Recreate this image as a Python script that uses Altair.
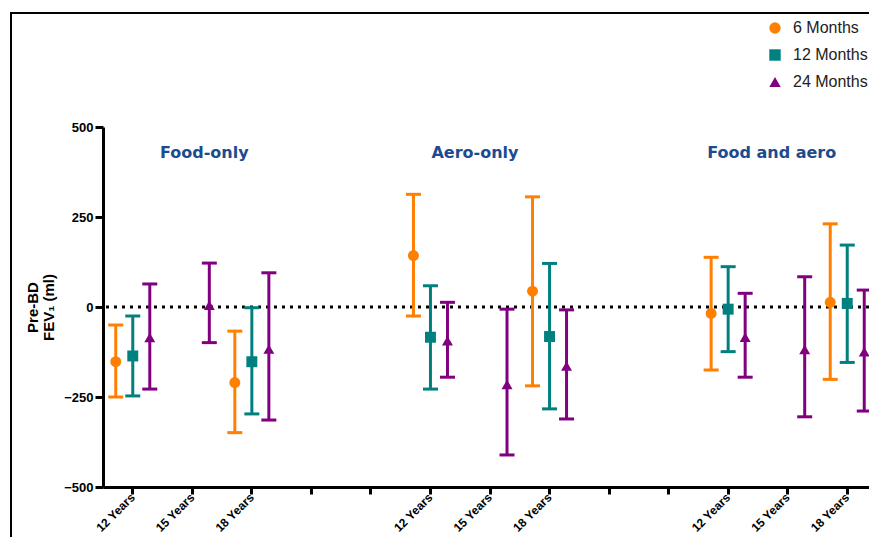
import altair as alt
import pandas as pd

groups = ["Food-only", "Aero-only", "Food and aero"]
ages = ["12 Years", "15 Years", "18 Years"]
series = ["6 Months", "12 Months", "24 Months"]
colors = ["#FF7F00", "#00807F", "#800080"]
shapes = ["circle", "square", "triangle-up"]

# values per (group, age): Food 12/15/18, Aero 12/15/18, Food+aero 12/15/18
mean_6 = [-152, None, -210, 143, None, 44, -18, None, 13]
lo_6 = [-250, None, -349, -25, None, -219, -175, None, -201]
hi_6 = [-50, None, -67, 313, None, 306, 138, None, 231]

mean_12 = [-136, None, -152, -84, None, -82, -6, None, 10]
lo_12 = [-247, None, -297, -228, None, -283, -124, None, -154]
hi_12 = [-25, None, -2, 59, None, 121, 112, None, 172]

mean_24 = [-85, 5, -117, -94, -215, -164, -84, -118, -124]
lo_24 = [-228, -99, -314, -195, -411, -311, -195, -305, -289]
hi_24 = [64, 122, 95, 13, -6, -8, 38, 84, 47]

title_dx = [12, -15, -16]

keys = [f"{g}|{a}" for g in groups for a in ages]
slots = []
for gi, g in enumerate(groups):
    slots += [f"{g}|{a}" for a in ages]
    if gi < len(groups) - 1:
        slots += [f"gap{gi}a", f"gap{gi}b"]

rows = []
for s, ms, los, his in zip(series, [mean_6, mean_12, mean_24], [lo_6, lo_12, lo_24], [hi_6, hi_12, hi_24]):
    for k, m, l, h in zip(keys, ms, los, his):
        if m is None:
            continue
        rows.append({"slot": k, "series": s, "mean": m, "lo": l, "hi": h})
df = pd.DataFrame(rows)

W, H = 774, 360
FONT = "Liberation Sans"

xscale = alt.Scale(domain=slots, paddingInner=0, paddingOuter=0)
offscale = alt.Scale(domain=series, paddingInner=0, paddingOuter=0.25)
yscale = alt.Scale(domain=[-500, 500], nice=False, zero=False)
cscale = alt.Scale(domain=series, range=colors)
sscale = alt.Scale(domain=series, range=shapes)

xaxis = alt.Axis(
    title=None,
    labelExpr="indexof(datum.value, '|') > 0 ? split(datum.value, '|')[1] : ''",
    labelAngle=-45, labelAlign="right", labelBaseline="middle",
    labelFont=FONT, labelFontSize=12, labelFontWeight="bold", labelColor="black",
    labelPadding=1, tickSize=7, tickWidth=3, tickColor="black",
    domainColor="black", domainWidth=3, grid=False,
)
yaxis = alt.Axis(
    values=[-500, -250, 0, 250, 500], grid=False,
    domainColor="black", domainWidth=3, tickColor="black", tickWidth=3, tickSize=8,
    labelFont=FONT, labelFontSize=13, labelFontWeight="bold", labelColor="black", labelPadding=2,
    title=["Pre-BD", "FEV\u2081 (ml)"], titleFont=FONT, titleFontSize=15, titleFontWeight="bold",
    titleColor="black", titlePadding=7, titleLineHeight=16,
)

base = alt.Chart(df).encode(
    x=alt.X("slot:N", scale=xscale, axis=xaxis),
    xOffset=alt.XOffset("series:N", scale=offscale),
)

zero = alt.Chart(pd.DataFrame({"z": [0]})).mark_rule(
    color="black", strokeWidth=3, strokeDash=[3, 5]
).encode(y=alt.Y("z:Q", scale=yscale, axis=yaxis))

bars = base.mark_rule(strokeWidth=3).encode(
    y=alt.Y("lo:Q", scale=yscale, axis=yaxis), y2="hi:Q",
    stroke=alt.Stroke("series:N", scale=cscale, legend=None),
)
cap_lo = base.mark_tick(orient="horizontal", size=15, thickness=3, opacity=1).encode(
    y=alt.Y("lo:Q", scale=yscale),
    fill=alt.Fill("series:N", scale=cscale, legend=None),
)
cap_hi = base.mark_tick(orient="horizontal", size=15, thickness=3, opacity=1).encode(
    y=alt.Y("hi:Q", scale=yscale),
    fill=alt.Fill("series:N", scale=cscale, legend=None),
)

points = base.mark_point(filled=True, size=120, opacity=1).encode(
    y=alt.Y("mean:Q", scale=yscale),
    color=alt.Color("series:N", scale=cscale, legend=None),
    shape=alt.Shape("series:N", scale=sscale, legend=None),
)

titles = []
for g, dx in zip(groups, title_dx):
    tdf = pd.DataFrame({"slot": [f"{g}|15 Years"], "label": [g]})
    titles.append(
        alt.Chart(tdf).mark_text(
            font="DejaVu Sans", fontSize=16, fontWeight="bold", color="#1d4b8f",
            baseline="middle", align="center", dx=dx,
        ).encode(
            x=alt.X("slot:N", scale=xscale),
            y=alt.datum(429),
            text="label:N",
        )
    )

one = pd.DataFrame({"a": [0]})
frame_left = alt.Chart(one).mark_rule(color="black", strokeWidth=2).encode(
    x=alt.value(-92), y=alt.value(-114), y2=alt.value(H + 120)
)
frame_top = alt.Chart(one).mark_rule(color="black", strokeWidth=2).encode(
    x=alt.value(-93), x2=alt.value(W + 20), y=alt.value(-114)
)

main = alt.layer(frame_left, frame_top, zero, bars, cap_lo, cap_hi, points, *titles)

# legend (drawn as a small keyed layer at the top right, above the plot)
leg_df = pd.DataFrame({"series": series})
leg_y = alt.Y("series:N", scale=alt.Scale(domain=series, range=[-99, -45], padding=0), axis=None)
leg_pts = alt.Chart(leg_df).mark_point(filled=True, size=130, opacity=1).encode(
    x=alt.value(672), y=leg_y,
    color=alt.Color("series:N", scale=cscale, legend=None),
    shape=alt.Shape("series:N", scale=sscale, legend=None),
)
leg_txt = alt.Chart(leg_df).mark_text(
    font=FONT, fontSize=16, color="#222222", align="left", baseline="middle"
).encode(x=alt.value(690), y=leg_y, text="series:N")

chart = alt.layer(main, leg_pts, leg_txt).resolve_scale(y="independent").properties(
    width=W, height=H,
    autosize=alt.AutoSizeParams(type="none"),
    padding={"left": 95, "top": 119, "right": -8, "bottom": 50},
    background="white",
).configure_view(stroke=None)

chart.save("out.html", embed_options={"renderer": "svg", "actions": False})
